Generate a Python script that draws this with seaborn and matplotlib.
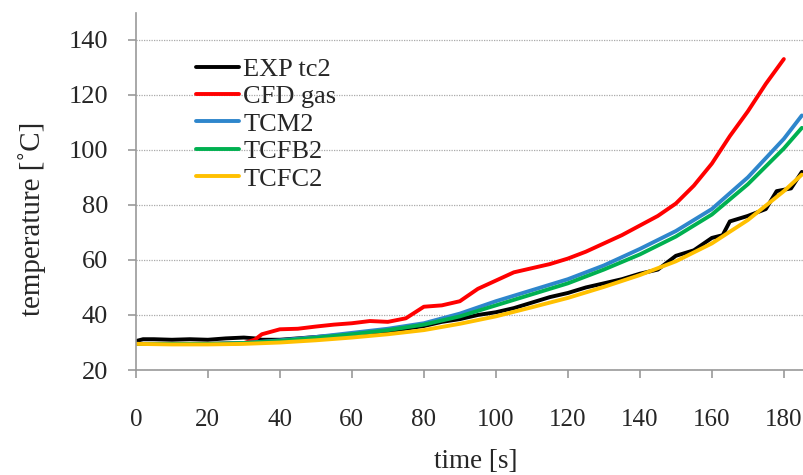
import numpy as np
import pandas as pd
import matplotlib
matplotlib.use("Agg")
import matplotlib.pyplot as plt
import seaborn as sns

# measured thermocouple
t_exp = [0, 2, 5, 10, 15, 20, 25, 30, 33, 35, 40, 45, 50, 55, 60, 65, 70, 75, 80, 85,
         90, 95, 100, 105, 110, 115, 120, 125, 130, 135, 140, 145, 150, 155, 160, 163,
         165, 170, 175, 178, 180, 182, 185]
exp_tc2 = [30.5, 31.2, 31.2, 31.0, 31.2, 31.0, 31.5, 31.8, 31.5, 31.0, 31.0, 31.5, 32.0,
           32.5, 33.0, 33.5, 34.0, 35.0, 36.0, 37.5, 38.5, 40.0, 41.0, 42.5, 44.5, 46.5,
           48.0, 50.0, 51.5, 53.0, 55.0, 56.5, 61.5, 63.5, 68.0, 69.0, 74.0, 76.0, 78.5,
           85.0, 85.5, 86.0, 92.0]

# CFD gas temperature
t_cfd = [0, 10, 20, 30, 33, 35, 40, 45, 50, 55, 60, 65, 70, 75, 80, 85, 90, 95, 100, 105,
         110, 115, 120, 125, 130, 135, 140, 145, 150, 155, 160, 165, 170, 175, 180]
cfd_gas = [29.5, 29.5, 29.5, 29.8, 31.0, 33.0, 34.8, 35.0, 35.8, 36.5, 37.0, 37.8, 37.5,
           38.8, 43.0, 43.5, 45.0, 49.5, 52.5, 55.5, 57.0, 58.5, 60.5, 63.0, 66.0, 69.0,
           72.5, 76.0, 80.5, 87.0, 95.0, 105.0, 114.0, 124.0, 133.0]

# thermocouple models
t_mod = [0, 10, 20, 30, 40, 50, 60, 70, 80, 90, 100, 110, 120, 130, 140, 150, 160, 170,
         180, 185]
tcm2 = [29.5, 29.5, 29.5, 29.8, 30.8, 32.0, 33.5, 35.0, 37.0, 40.5, 45.0, 49.0, 53.0,
        58.0, 64.0, 70.5, 78.5, 90.0, 104.0, 112.5]
tcfb2 = [29.5, 29.5, 29.5, 29.8, 30.6, 31.7, 33.0, 34.5, 36.5, 39.5, 43.5, 47.5, 51.5,
         56.5, 62.0, 68.5, 76.5, 87.5, 100.5, 108.0]
tcfc2 = [29.5, 29.3, 29.3, 29.5, 30.0, 30.8, 31.8, 33.0, 34.5, 36.8, 39.5, 42.8, 46.2,
         50.2, 54.5, 59.5, 66.0, 74.5, 85.0, 91.0]

series = [
    ("EXP tc2", t_exp, exp_tc2, "#000000"),
    ("CFD gas", t_cfd, cfd_gas, "#ff0000"),
    ("TCM2", t_mod, tcm2, "#2e86cc"),
    ("TCFB2", t_mod, tcfb2, "#00b050"),
    ("TCFC2", t_mod, tcfc2, "#ffc000"),
]

sns.set_style("white")
plt.rcParams["font.family"] = ["Liberation Serif", "DejaVu Serif"]

fig = plt.figure(figsize=(8.04, 4.75), dpi=100)
ax = fig.add_axes([0.169, 0.221, 0.831, 0.752])

for name, t, v, c in series:
    df = pd.DataFrame({"time": t, "temp": v})
    sns.lineplot(data=df, x="time", y="temp", ax=ax, color=c, linewidth=2.8,
                 label=name, solid_capstyle="round")

ax.set_xlim(0, 185.6)
ax.set_ylim(20, 149.8)
ax.set_xticks(np.arange(0, 181, 20))
ax.set_yticks(np.arange(20, 141, 20))
ax.yaxis.grid(True, linestyle=(0, (1, 1)), color="#aaaaaa", linewidth=0.9)
ax.set_axisbelow(True)

for s in ["top", "right"]:
    ax.spines[s].set_visible(False)
for s in ["left", "bottom"]:
    ax.spines[s].set_color("#999999")
    ax.spines[s].set_linewidth(1.2)

ax.tick_params(axis="x", direction="out", length=6, width=1.2, color="#999999",
               labelsize=18, pad=22, bottom=True)
ax.tick_params(axis="y", direction="out", length=6, width=1.2, color="#999999",
               labelsize=19, pad=14, left=True)

ax.set_xlabel("time [s]", fontsize=19.5)
ax.set_ylabel("temperature [˚C]", fontsize=21)
ax.xaxis.set_label_coords(0.509, -0.222)
ax.yaxis.set_label_coords(-0.135, 0.423)

ax.legend(loc="upper left", bbox_to_anchor=(0.074, 0.905), frameon=False, fontsize=19,
          handlelength=1.65, handletextpad=0.15, labelspacing=0.15, borderaxespad=0)

fig.savefig("out.png", dpi=100)
